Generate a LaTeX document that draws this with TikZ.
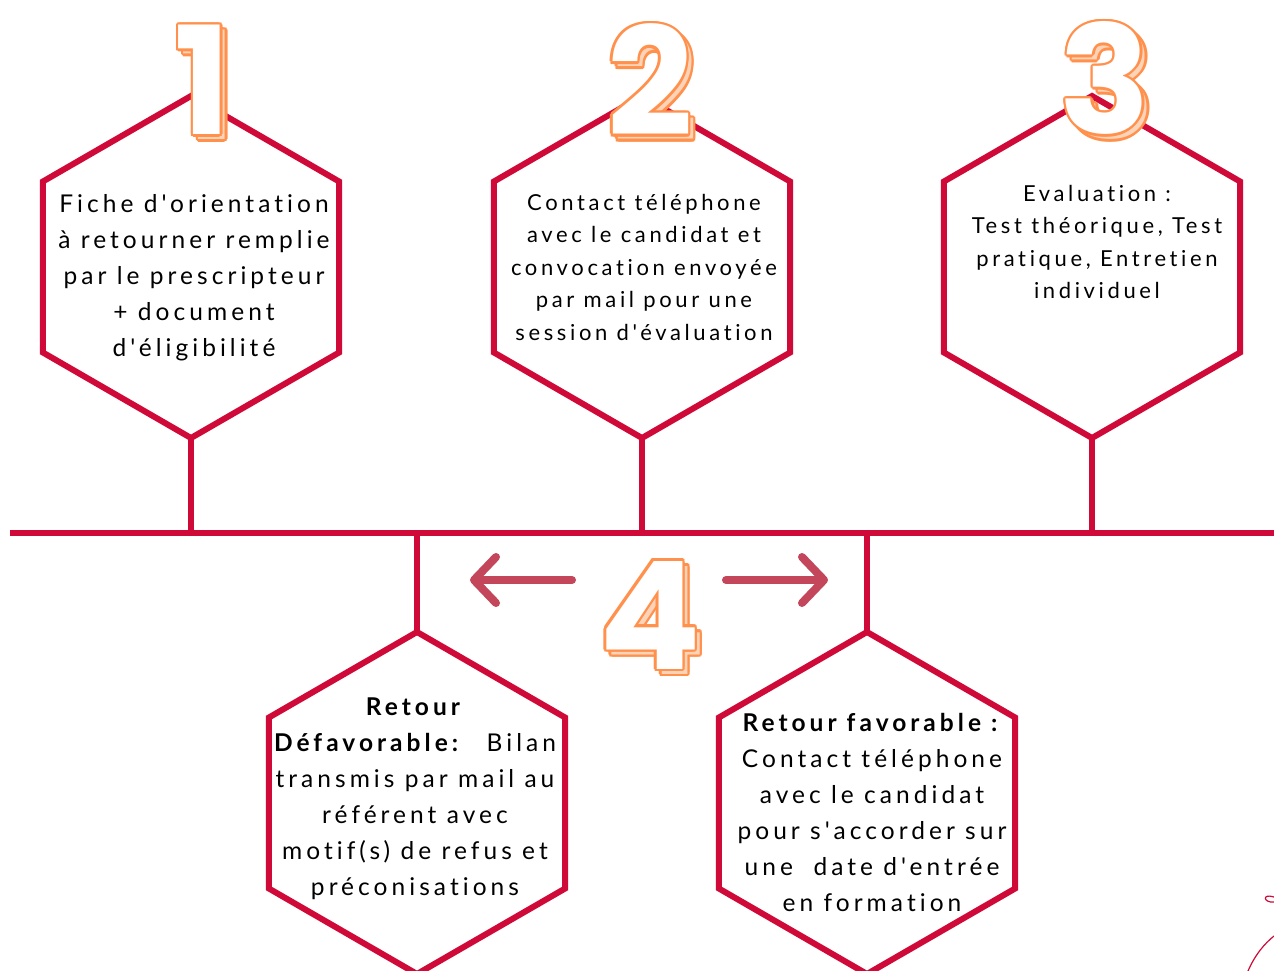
\documentclass[tikz,border=0pt]{standalone}
\usepackage{fontspec}
\setmainfont{Lato}[LetterSpace=16.5, Ligatures={TeXOff,CommonOff}]
\newfontfamily\numfont{Poppins}
\usepackage{tikz}
\usetikzlibrary{shapes.geometric, arrows.meta, positioning, calc}

\definecolor{hexred}{RGB}{208,10,56}
\definecolor{arrowred}{RGB}{196,70,90}
\definecolor{numorange}{RGB}{255,145,77}

% sketchy 3D numeral: #1 node name, #2 coordinate, #3 digit
\newcommand{\sketchnum}[3]{%
  \foreach \ang in {0,30,...,330}
    \node[numeral, text=numorange] at ($(#2)+(5pt,-5pt)+(\ang:2.5pt)$) {#3};
  \node[numeral, text=numorange!40] at ($(#2)+(5pt,-5pt)$) {#3};
  \foreach \ang in {0,30,...,330}
    \node[numeral, text=numorange] at ($(#2)+(\ang:2.5pt)$) {#3};
  \node[numeral, text=white] (#1) at (#2) {#3};
}

\begin{document}
\begin{tikzpicture}[
    x=1pt, y=-1pt,
    redline/.style={draw=hexred, line width=6pt},
    hexa/.style={regular polygon, regular polygon sides=6, shape border rotate=30, minimum size=342pt, inner sep=0pt, outer sep=0pt, draw=hexred, line width=6pt},
    hextext/.style={align=center, inner sep=0pt, font=\fontsize{24.5}{36}\selectfont},
    smalltext/.style={align=center, inner sep=0pt, font=\fontsize{22}{32.5}\selectfont},
    numeral/.style={inner sep=0pt, font=\numfont\bfseries\fontsize{150}{150}\selectfont},
    sidearrow/.style={draw=arrowred, line width=8pt, line cap=round, -{Straight Barb[length=22pt, width=46pt, round]}}
]
\fill[white] (0,0) rectangle (1274,971);
\useasboundingbox (0,0) rectangle (1274,971);

% Timeline
\coordinate (tl-west) at (10,533);
\coordinate (tl-east) at (1274,533);
\draw[redline] (tl-west) -- (tl-east);

% Upper steps
\node[hexa] (hex1) at (191,267) {};
\node[hexa] (hex2) at (642,267) {};
\node[hexa] (hex3) at (1092,267) {};

% Lower steps
\node[hexa] (hex4) at (417,803) {};
\node[hexa] (hex5) at (867,803) {};

% Stems
\foreach \h in {hex1,hex2,hex3}
    \draw[redline] (\h.south) -- (\h.south |- tl-west);
\foreach \h in {hex4,hex5}
    \draw[redline] (\h.north) -- (\h.north |- tl-west);

% Texts
\node[hextext] (txt1) at (194,278) {Fiche d'orientation\\à retourner remplie\\par le prescripteur\\+ document\\d'éligibilité};
\node[smalltext] (txt2) at (644,267) {Contact téléphone\\avec le candidat et\\convocation envoyée\\par mail pour une\\session d'évaluation};
\node[smalltext] (txt3) at (1097,242) {Evaluation :\\Test théorique, Test\\pratique, Entretien\\individuel};
\node[hextext] (txt4) at (415,799) {\textbf{Retour}\\\makebox[282pt]{\textbf{Défavorable:}\hfill Bilan}\\transmis par mail au\\référent avec\\motif(s) de refus et\\préconisations};
\node[hextext] (txt5) at (872,812) {\textbf{Retour favorable :}\\Contact téléphone\\avec le candidat\\pour s'accorder sur\\une~~date d'entrée\\en formation};

% Arrows round the 4
\coordinate (la-start) at (572,580);
\coordinate (la-end) at (470,580);
\coordinate (ra-start) at (726,580);
\coordinate (ra-end) at (828,580);
\draw[sidearrow] (la-start) -- (la-end);
\draw[sidearrow] (ra-start) -- (ra-end);

% Numerals
\coordinate (n1) at (203,80);
\coordinate (n2) at (650,80);
\coordinate (n3) at (1105,78);
\coordinate (n4) at (650,615);
\sketchnum{num1}{n1}{1}
\sketchnum{num2}{n2}{2}
\sketchnum{num3}{n3}{3}
\sketchnum{num4}{n4}{4}

% corner doodle
\draw[hexred, line width=1.2pt] (1248,971) .. controls (1255,955) and (1264,944) .. (1274,936);
\draw[hexred, line width=1.2pt] (1274,897) .. controls (1262,893) and (1263,903) .. (1274,902);
\end{tikzpicture}
\end{document}
